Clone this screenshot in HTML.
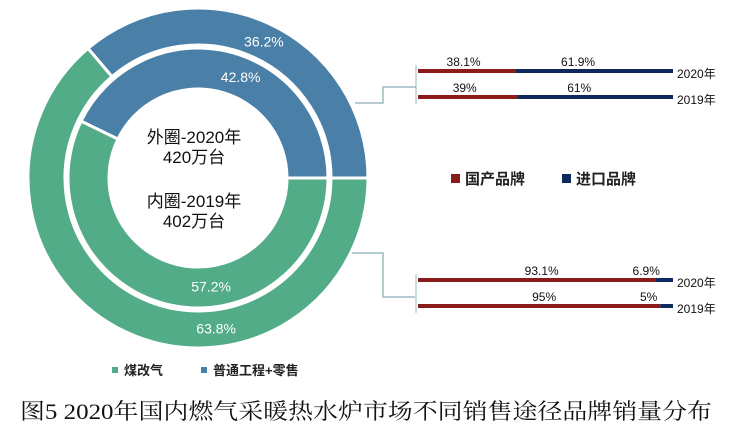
<!DOCTYPE html>
<html><head><meta charset="utf-8"><style>
html,body{margin:0;padding:0;background:#fff;}
svg{display:block;font-family:"Liberation Sans","Noto Sans CJK SC",sans-serif;}
</style></head><body>
<svg id="c" width="740" height="434" viewBox="0 0 740 434">
<g id="pie"></g>
<g id="bars"></g>
<g fill="none" stroke="#6f9aa0" stroke-width="1">
<polyline points="355,103 383,103 383,87 416,87"/>
<polyline points="352,253 383,253 383,297 415,297"/>
</g>
<g font-size="17" text-anchor="middle" fill="#111">
<text x="194" y="143">外圈-2020年</text>
<text x="194" y="163">420万台</text>
<text x="194" y="207">内圈-2019年</text>
<text x="194" y="227">402万台</text>
</g>
<g font-size="13" font-weight="bold" fill="#222">
<rect x="112" y="367" width="6" height="6" fill="#52ac88"/>
<text x="124" y="375">煤改气</text>
<rect x="201" y="367" width="6" height="6" fill="#4a80a8"/>
<text x="213" y="375">普通工程+零售</text>
</g>
<g font-size="15" font-weight="bold" fill="#222">
<rect x="451" y="174" width="9" height="9" fill="#8b1a1a"/>
<text x="465" y="184">国产品牌</text>
<rect x="562" y="174" width="9" height="9" fill="#0e2a5c"/>
<text x="576" y="184">进口品牌</text>
</g>
<text x="20" y="419" font-family="'Liberation Serif','Noto Serif CJK SC',serif" font-size="22" textLength="692" lengthAdjust="spacingAndGlyphs" fill="#111">图5 2020年国内燃气采暖热水炉市场不同销售途径品牌销量分布</text>
</svg>
<script>
const ringYears = ["2020", "2019"];
const coalShare = [63.8, 57.2];
const retailShare = [36.2, 42.8];
const barGroups = ["retail", "coal"];
const barYears = ["2020年", "2019年"];
const domesticRetail = [38.1, 39];
const importRetail = [61.9, 61];
const domesticCoal = [93.1, 95];
const importCoal = [6.9, 5];

const NS = "http://www.w3.org/2000/svg";
const cx = 198, cy = 178;
const rings = [{r0: 133, r1: 170}, {r0: 89, r1: 130}];
const colors = {coal: "#52ac88", retail: "#4a80a8"};
function pt(r, a) { return [cx + r * Math.cos(a), cy - r * Math.sin(a)]; }
function arc(r0, r1, a0, a1) {
  const large = (a1 - a0) > Math.PI ? 1 : 0;
  const p1 = pt(r1, a0), p2 = pt(r1, a1), p3 = pt(r0, a1), p4 = pt(r0, a0);
  return `M${p1}L${p1}A${r1},${r1} 0 ${large} 0 ${p2}L${p3}A${r0},${r0} 0 ${large} 1 ${p4}Z`;
}
const pie = document.getElementById("pie");
ringYears.forEach((y, i) => {
  const {r0, r1} = rings[i];
  const tot = coalShare[i] + retailShare[i];
  const aR = retailShare[i] / tot * 2 * Math.PI;
  const segs = [
    {k: "retail", a0: 0, a1: aR, v: retailShare[i]},
    {k: "coal", a0: aR, a1: 2 * Math.PI, v: coalShare[i]}
  ];
  segs.forEach(s => {
    const p = document.createElementNS(NS, "path");
    p.setAttribute("d", arc(r0, r1, s.a0, s.a1));
    p.setAttribute("fill", colors[s.k]);
    p.setAttribute("stroke", "#fff");
    p.setAttribute("stroke-width", "3");
    
    
    pie.appendChild(p);
    const t = document.createElementNS(NS, "text");
    const am = s.k === "retail" ? Math.PI / 2 - 0.45 + (i ? 0.05 : 0) : -Math.PI / 2 + 0.12;
    const lp = pt((r0 + r1) / 2, am);
    t.setAttribute("x", lp[0]); t.setAttribute("y", lp[1] + 5);
    t.setAttribute("text-anchor", "middle");
    t.setAttribute("fill", "#fff"); t.setAttribute("font-size", "14");
    t.textContent = s.v + "%";
    
    
    pie.appendChild(t);
  });
});

const bars = document.getElementById("bars");
const groupTop = [71, 280];
const x0 = 418, x1 = 673;
const xs = v => x0 + v / 100 * (x1 - x0);
const dom = [domesticRetail, domesticCoal], imp = [importRetail, importCoal];
barGroups.forEach((g, gi) => {
  const ax = document.createElementNS(NS, "line");
  ax.setAttribute("x1", x0 - 2); ax.setAttribute("x2", x0 - 2);
  ax.setAttribute("y1", groupTop[gi] - 6); ax.setAttribute("y2", groupTop[gi] + 33);
  ax.setAttribute("stroke", "#9bb"); ax.setAttribute("stroke-width", "1");
  
  
  bars.appendChild(ax);
  barYears.forEach((yr, yi) => {
    const y = groupTop[gi] + yi * 26;
    const d = dom[gi][yi], m = imp[gi][yi];
    [[0, d, "#8b1a1a", "domestic"], [d, d + m, "#0e2a5c", "import"]].forEach(([a, b, c, n]) => {
      const r = document.createElementNS(NS, "rect");
      r.setAttribute("x", xs(a)); r.setAttribute("width", xs(b) - xs(a));
      r.setAttribute("y", y - 2); r.setAttribute("height", 4);
      r.setAttribute("fill", c);
      
      
      bars.appendChild(r);
    });
    const t1 = document.createElementNS(NS, "text");
    const t2 = document.createElementNS(NS, "text");
    t1.setAttribute("x", gi ? xs(d / 2) + 5 : xs(d / 2) - 3);
    t2.setAttribute("x", gi ? xs(d + m / 2) - 18 : xs(d + m / 2) - 16);
    [t1, t2].forEach(t => { t.setAttribute("y", y - 5); t.setAttribute("font-size", "12"); t.setAttribute("text-anchor", "middle"); t.setAttribute("fill", "#111"); });
    t1.textContent = d + "%"; t2.textContent = m + "%";
    
    
    
    
    bars.appendChild(t1); bars.appendChild(t2);
    const yl = document.createElementNS(NS, "text");
    yl.setAttribute("x", 677); yl.setAttribute("y", y + 7);
    yl.setAttribute("font-size", "12"); yl.setAttribute("fill", "#111");
    yl.textContent = yr;
    
    
    bars.appendChild(yl);
  });
});
</script>
</body></html>
